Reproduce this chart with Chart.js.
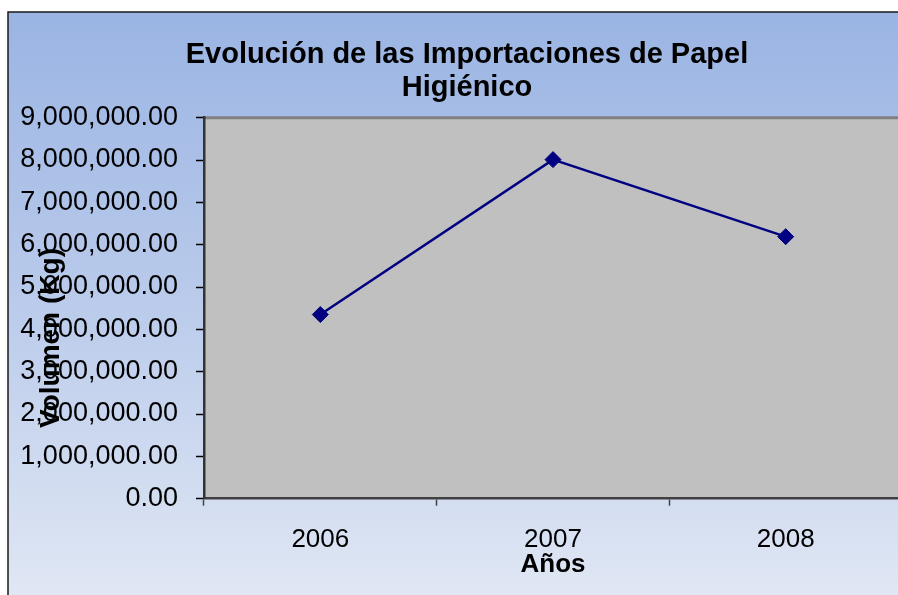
<!DOCTYPE html>
<html>
<head>
<meta charset="utf-8">
<script src="https://cdn.jsdelivr.net/npm/chart.js@4/dist/chart.umd.min.js"></script>
<style>
  html, body { margin: 0; padding: 0; overflow: hidden; background: #ffffff; }
  #wrap { position: absolute; left: 0; top: 0; width: 911px; height: 595px; }
</style>
</head>
<body>
<div id="wrap"><canvas id="c" width="911" height="595"></canvas></div>
<script>
const categories = ['2006', '2007', '2008'];
const volumenKg = [4350000, 8010000, 6190000];
const titleLines = ['Evolución de las Importaciones de Papel', 'Higiénico'];
const yAxisTitle = 'Volumen (Kg)';
const xAxisTitle = 'Años';
const yMin = 0, yMax = 9000000, yStep = 1000000;

const FONT = '"Liberation Sans", Arial, sans-serif';

const backgroundPlugin = {
  id: 'bg',
  afterLayout(chart) {
    // let the left-axis labels use the space to the left of the axis box
    chart.scales.y.left = 0;
  },
  beforeDraw(chart) {
    const ctx = chart.ctx;
    const W = chart.width, H = chart.height;
    ctx.save();
    ctx.fillStyle = '#ffffff';
    ctx.fillRect(0, 0, W, H);
    const g = ctx.createLinearGradient(0, 12, 0, H);
    g.addColorStop(0, '#9AB4E3');
    g.addColorStop(0.5, '#BACBEB');
    g.addColorStop(1, '#E0E7F4');
    ctx.fillStyle = g;
    ctx.fillRect(8, 12, W - 8, H - 12);
    ctx.strokeStyle = '#1a1a1a';
    ctx.lineWidth = 1.5;
    ctx.beginPath();
    ctx.moveTo(8, H);
    ctx.lineTo(8, 12);
    ctx.lineTo(W, 12);
    ctx.stroke();
    const a = chart.chartArea;
    ctx.fillStyle = '#C0C0C0';
    ctx.fillRect(a.left, a.top, a.right - a.left, a.bottom - a.top);
    ctx.strokeStyle = '#808080';
    ctx.lineWidth = 3;
    ctx.beginPath();
    ctx.moveTo(a.left, a.top);
    ctx.lineTo(a.right, a.top);
    ctx.stroke();
    ctx.restore();
  }
};

const yTitlePlugin = {
  id: 'yTitle',
  afterDraw(chart) {
    const ctx = chart.ctx;
    ctx.save();
    ctx.translate(51, 338);
    ctx.rotate(-Math.PI / 2);
    ctx.fillStyle = '#000000';
    ctx.font = 'bold 28px ' + FONT;
    ctx.textAlign = 'center';
    ctx.textBaseline = 'middle';
    ctx.fillText(yAxisTitle, 0, 0);
    ctx.restore();
  }
};

const chart = new Chart(document.getElementById('c'), {
  type: 'line',
  data: {
    labels: categories,
    datasets: [{
      data: volumenKg,
      borderColor: '#000080',
      backgroundColor: '#000080',
      borderWidth: 2.5,
      pointStyle: 'rectRot',
      pointRadius: 8,
      pointBorderWidth: 1,
      pointBackgroundColor: '#000080',
      pointBorderColor: '#000080',
      tension: 0,
      fill: false
    }]
  },
  options: {
    responsive: false,
    maintainAspectRatio: false,
    animation: false,
    devicePixelRatio: 1,
    layout: { padding: { left: 25, right: 2, top: 0, bottom: 0 } },
    plugins: {
      legend: { display: false },
      tooltip: { enabled: false },
      title: {
        display: true,
        text: titleLines,
        color: '#000000',
        font: { family: FONT, size: 29, weight: 'bold', lineHeight: 1.15 },
        padding: { top: 38, bottom: 13 }
      }
    },
    scales: {
      x: {
        type: 'category',
        offset: true,
        grid: {
          offset: true,
          drawOnChartArea: false,
          drawTicks: true,
          tickLength: 7,
          tickColor: '#404040',
          tickWidth: 1.5
        },
        border: { display: true, color: '#404040', width: 2.5 },
        ticks: {
          color: '#000000',
          font: { family: FONT, size: 26, lineHeight: 1 },
          padding: 21,
          maxRotation: 0
        },
        title: {
          display: true,
          text: xAxisTitle,
          color: '#000000',
          font: { family: FONT, size: 26, weight: 'bold', lineHeight: 1 },
          padding: { top: -21.7, bottom: 17 }
        }
      },
      y: {
        min: yMin,
        max: yMax,
        afterFit(scale) { scale.width = 179; },
        grid: {
          drawOnChartArea: false,
          drawTicks: true,
          tickLength: 8,
          tickColor: '#000000',
          tickWidth: 1.5
        },
        border: { display: true, color: '#333333', width: 2.5 },
        ticks: {
          stepSize: yStep,
          color: '#000000',
          font: { family: FONT, size: 27, lineHeight: 1 },
          padding: 18,
          callback: v => Number(v).toLocaleString('en-US', { minimumFractionDigits: 2, maximumFractionDigits: 2 })
        },
        title: { display: false }
      }
    }
  },
  plugins: [backgroundPlugin, yTitlePlugin]
});
</script>
</body>
</html>
